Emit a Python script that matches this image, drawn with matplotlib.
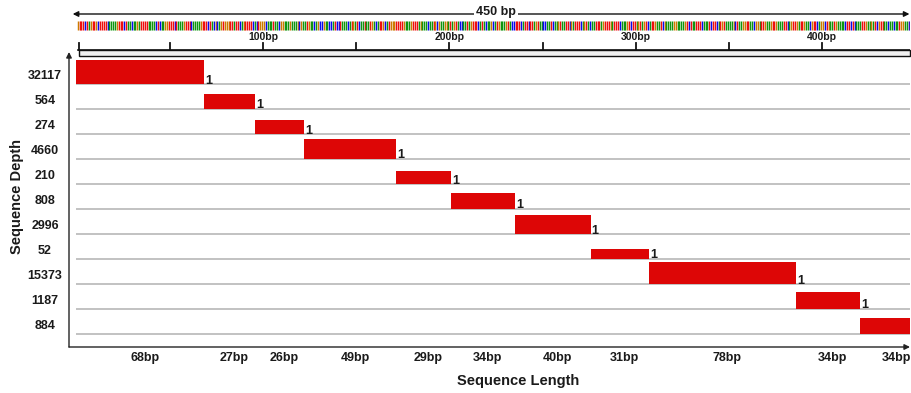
import numpy as np
import matplotlib
matplotlib.use("Agg")
import matplotlib.pyplot as plt
from matplotlib import transforms

# ---------------- data ----------------
depths = [32117, 564, 274, 4660, 210, 808, 2996, 52, 15373, 1187, 884]
lengths_bp = [68, 27, 26, 49, 29, 34, 40, 31, 78, 34, 34]
counts = [1, 1, 1, 1, 1, 1, 1, 1, 1, 1, 1]
total_bp = 450
ruler_ticks = [0, 50, 100, 150, 200, 250, 300, 350, 400]
ruler_labels = {100: "100bp", 200: "200bp", 300: "300bp", 400: "400bp"}
seq_chunks = [
    "GTTTCTAGTTGCTTTTCAAAAGTTTCTAACAAGATTTTAAAACTCAAGGTTTCTAAAGTTTCAAAAGTTTCTACG",
    "CAGTGGGTTATTCAGTTTTCACTGGGCAAATAACGGAAAGAAAGCGAATGAACAGCCGAACCATCCTAAACATGA",
    "TCAATAATGACATTGCATGGGTTTTGAAAGTTTAGAAACAATGCGAAGGATAGTACCAATAGTTTCATACAAGCA",
    "TGAAAGTACCTTTCATTCTTAGTAACCAATCAAGTAATTCGATTTCAGTACAATTTAGTTTGATTTCAAAGTCTT",
    "AGTAGTCATTGAATCGAAAAGGAAAAGTCTAATTTCAAATCTTCATGTAAAAGCTAAGGTTAACGGATTGAAGTT",
    "GAAATTCAGTTGATTGAACGTTCAGGCTGAATGAAAACTTCTCAAATTGAAGATCGTTAACAACAATGGAACTGA",
]
sequence = "".join(seq_chunks)

# ---------------- style ----------------
plt.rcParams['font.family'] = ['Liberation Sans', 'DejaVu Sans']
base_colors = {'T': '#ee0e0e', 'G': '#cc7a00', 'A': '#0f950f', 'C': '#0808f0'}
bar_red = '#dd0606'
txt = '#1a1a1a'

W, H = 911, 393
fig = plt.figure(figsize=(W / 100, H / 100), dpi=100)

ax_left_px, ax_right_px = 69, 910
# main chart bp -> pixel mapping
m_px0, m_scale = 76.0, 1.885
xl_main = ((ax_left_px - m_px0) / m_scale, (ax_right_px - m_px0) / m_scale)
# ruler bp -> pixel mapping
r_px0, r_scale = 76.8, 1.863
xl_rul = ((ax_left_px - r_px0) / r_scale, (ax_right_px - r_px0) / r_scale)

# ---------------- main axes ----------------
top_px, bot_px = 59, 347
row0_px, row_step = 84, 25
ax = fig.add_axes([ax_left_px / W, (H - bot_px) / H,
                   (ax_right_px - ax_left_px) / W, (bot_px - top_px) / H])
ax.set_xlim(*xl_main)
ax.set_ylim((bot_px - row0_px) / row_step, (top_px - row0_px) / row_step)
for s in ax.spines.values():
    s.set_visible(False)
ax.set_xticks([])
ax.set_yticks([])

starts = np.concatenate([[0], np.cumsum(lengths_bp)[:-1]])
rows = np.arange(len(depths))
heights = (1.33 + 5.04 * np.log10(depths)) / row_step

# row lines
for r in rows:
    ax.plot([0, total_bp], [r, r], color='#bdbdbd', lw=1.3, zorder=1,
            solid_capstyle='butt')

ax.bar(starts, heights, width=lengths_bp, bottom=rows - heights, align='edge',
       color=bar_red, edgecolor='none', zorder=2)

for r, st, ln, c in zip(rows[:-1], starts[:-1], lengths_bp[:-1], counts[:-1]):
    ax.text(st + ln + 0.5, r - 0.02, str(c), fontsize=9, fontweight='bold',
            color=txt, ha='left', va='baseline', zorder=3)

ytrans = transforms.blended_transform_factory(ax.transAxes, ax.transData)
xlab_px = 45
for r, d in zip(rows, depths):
    ax.text((xlab_px - ax_left_px) / (ax_right_px - ax_left_px), r - 0.33, str(d),
            transform=ytrans, fontsize=9, fontweight='bold', color=txt,
            ha='center', va='center', clip_on=False)

ylab_row = (358 - row0_px) / row_step
for st, ln in zip(starts, lengths_bp):
    ax.text(st + ln / 2 + 2.5, ylab_row, f"{ln}bp", fontsize=9, fontweight='bold',
            color=txt, ha='center', va='center', clip_on=False)

# axis arrows
ax.annotate('', xy=(0, 1 + 7 / (bot_px - top_px)), xytext=(0, 0),
            xycoords='axes fraction',
            arrowprops=dict(arrowstyle='-|>', color='#222222', lw=1,
                            mutation_scale=8, shrinkA=0, shrinkB=0),
            annotation_clip=False)
ax.annotate('', xy=(1, 0), xytext=(0, 0), xycoords='axes fraction',
            arrowprops=dict(arrowstyle='-|>', color='#222222', lw=1,
                            mutation_scale=8, shrinkA=0, shrinkB=0),
            annotation_clip=False)

fig.text(518 / W, 1 - 381 / H, "Sequence Length", fontsize=10.5,
         fontweight='bold', color=txt, ha='center', va='center')
fig.text(17 / W, 1 - 197 / H, "Sequence Depth", fontsize=10.5,
         fontweight='bold', color=txt, ha='center', va='center', rotation=90)

# ---------------- top ruler axes ----------------
rt, rb = 3, 58
axr = fig.add_axes([ax_left_px / W, (H - rb) / H,
                    (ax_right_px - ax_left_px) / W, (rb - rt) / H])
axr.set_xlim(*xl_rul)
axr.set_ylim(rb, rt)
axr.axis('off')

# length arrow
axr.annotate('', xy=(xl_rul[0] + 2.0, 14), xytext=(xl_rul[1] - 0.3, 14),
             xycoords='data',
             arrowprops=dict(arrowstyle='<|-|>', color='#111111', lw=1,
                             mutation_scale=8, shrinkA=0, shrinkB=0),
             annotation_clip=False)
axr.text(total_bp / 2, 12.5, f"{total_bp} bp", fontsize=9, fontweight='bold',
         color=txt, ha='center', va='center',
         bbox=dict(facecolor='white', edgecolor='none', pad=1.5))

# sequence strip
seq_cols = [base_colors[b] for b in sequence]
axr.vlines(np.arange(len(sequence)) + 0.5, 21, 30, colors=seq_cols,
           linewidth=1.05, antialiased=True)

# ruler
axr.add_patch(plt.Rectangle((1.2, 50), xl_rul[1] - 1.2, 6, facecolor='#f0f0f0',
                            edgecolor='#111111', lw=1, clip_on=False))
axr.plot([0.5, xl_rul[1]], [50, 50], color='#111111', lw=1.2)
for t in ruler_ticks:
    tx = max(t, 1.2)
    axr.plot([tx, tx], [43, 50], color='#111111', lw=1.3)
    if t in ruler_labels:
        axr.text(t, 36.5, ruler_labels[t], fontsize=7.5, fontweight='bold',
                 color=txt, ha='center', va='center')

fig.savefig("out.png", dpi=100)
